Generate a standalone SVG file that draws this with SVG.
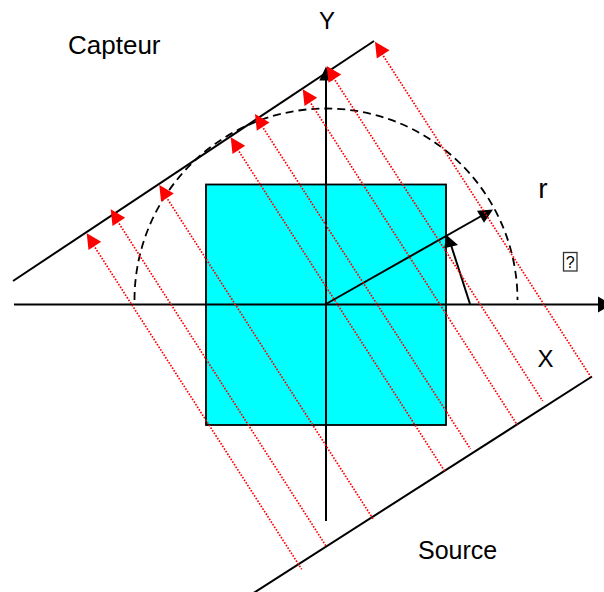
<svg xmlns="http://www.w3.org/2000/svg" width="604" height="592" viewBox="0 0 604 592">
<style>
.ln{stroke:#000;stroke-width:2;fill:none}
.ray{stroke:#ff0000;stroke-width:1.7;stroke-dasharray:1.6 1.5;fill:none}
.lbl{font-family:"Liberation Sans",Arial,sans-serif;fill:#000}
.arc{stroke:#000;stroke-width:1.8;fill:none;stroke-dasharray:8 5}
</style>
<defs>
<polygon id="rh" points="0,0 14.5,8.5 1.8,16.7" fill="#ff0000"/>
</defs>
<rect width="604" height="592" fill="#fff"/>
<g id="object">
<rect x="206" y="184.5" width="240" height="240.5" fill="#00ffff" stroke="#000" stroke-width="1.8"/>
</g>
<g id="axes">
<line class="ln" x1="14" y1="304.5" x2="600" y2="304.5"/>
<polygon points="598,296.5 612,304.5 598,312.5" fill="#000"/>
<line class="ln" x1="326" y1="521" x2="326" y2="78"/>
<polygon points="319.3,80.5 326,66.5 332.7,80.5" fill="#000"/>
</g>
<g id="circle">
<path class="arc" d="M134.5 300 A191.5 191.5 0 0 1 517.5 300"/>
</g>
<g id="capteur">
<line class="ln" x1="13" y1="281" x2="374" y2="41"/>
</g>
<g id="source">
<line class="ln" x1="252" y1="594" x2="592" y2="376.5"/>
</g>
<g id="vectors">
<line class="ln" x1="326" y1="304" x2="484" y2="214.5"/>
<polygon points="477,210.7 493,209.5 484,222.7" fill="#000"/>
<line class="ln" x1="470" y1="304" x2="451" y2="245"/>
<polygon points="446.5,235 444.2,248.3 458,245" fill="#000"/>
</g>
<g id="rays">
<line class="ray" x1="91.7" y1="242.3" x2="301.7" y2="569.3"/>
<line class="ray" x1="115.7" y1="218.3" x2="326" y2="546"/>
<line class="ray" x1="164.3" y1="194" x2="373.3" y2="519.3"/>
<line class="ray" x1="235.7" y1="146.3" x2="445" y2="471.7"/>
<line class="ray" x1="260" y1="123" x2="470.5" y2="449"/>
<line class="ray" x1="307.7" y1="98.3" x2="517.3" y2="425"/>
<line class="ray" x1="331.7" y1="75" x2="542.7" y2="401"/>
<line class="ray" x1="380" y1="50.7" x2="590.7" y2="376.7"/>
<use href="#rh" x="86.7" y="233.3"/>
<use href="#rh" x="110.7" y="209.3"/>
<use href="#rh" x="159.3" y="185"/>
<use href="#rh" x="230.7" y="137.3"/>
<use href="#rh" x="255" y="114"/>
<use href="#rh" x="302.7" y="89.3"/>
<use href="#rh" x="326.7" y="66"/>
<use href="#rh" x="375" y="41.7"/>
</g>
<g id="labels">
<text class="lbl" x="68" y="54.3" font-size="26">Capteur</text>
<text class="lbl" x="327" y="29.3" font-size="24" text-anchor="middle">Y</text>
<text class="lbl" x="543" y="197.5" font-size="28" text-anchor="middle">r</text>
<text class="lbl" x="545.5" y="366.7" font-size="24" text-anchor="middle">X</text>
<text class="lbl" x="418" y="559.3" font-size="25">Source</text>
<rect x="563.5" y="252.5" width="13.5" height="18.5" fill="#fff" stroke="#333" stroke-width="1.3"/>
<text class="lbl" x="570.2" y="267.5" font-size="16" text-anchor="middle">?</text>
</g>
</svg>
